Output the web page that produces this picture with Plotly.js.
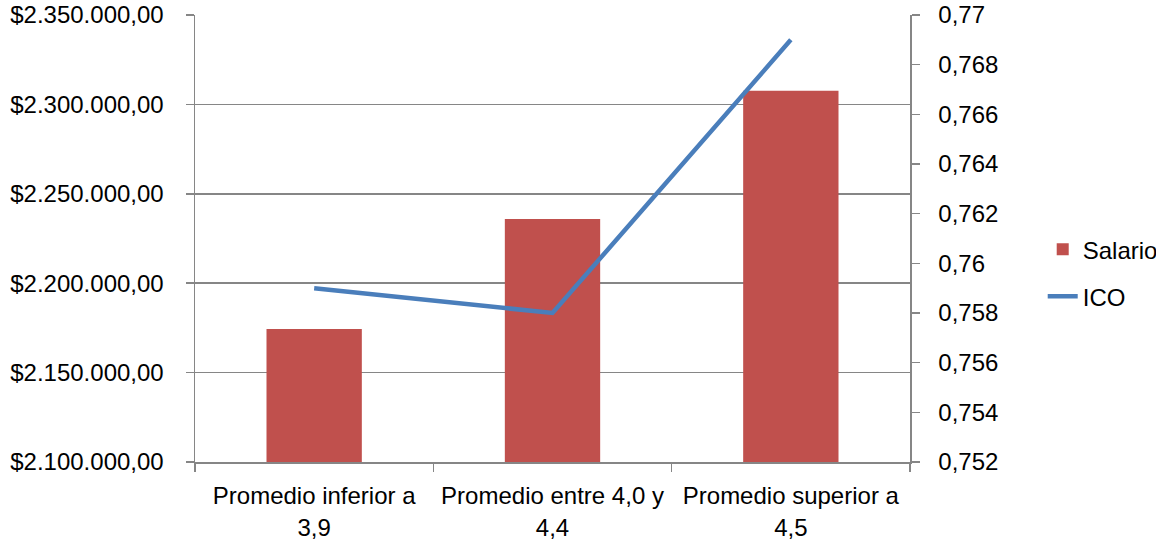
<!DOCTYPE html>
<html>
<head>
<meta charset="utf-8">
<script src="https://cdn.plot.ly/plotly-3.0.1.min.js"></script>
<style>html,body{margin:0;padding:0;background:#fff;}#chart{width:1156px;height:545px;}</style>
</head>
<body>
<div id="chart"></div>
<script>
const categories = ["Promedio inferior a<br>3,9", "Promedio entre 4,0 y<br>4,4", "Promedio superior a<br>4,5"];
const salario = [2174400, 2235900, 2307600];
const ico = [0.759, 0.758, 0.769];
const leftTickVals = [2100000, 2150000, 2200000, 2250000, 2300000, 2350000];
const leftTickText = ["$2.100.000,00", "$2.150.000,00", "$2.200.000,00", "$2.250.000,00", "$2.300.000,00", "$2.350.000,00"];
const rightTickVals = [0.752, 0.754, 0.756, 0.758, 0.76, 0.762, 0.764, 0.766, 0.768, 0.77];
const rightTickText = ["0,752", "0,754", "0,756", "0,758", "0,76", "0,762", "0,764", "0,766", "0,768", "0,77"];

const FONT = "Liberation Sans, Arial, sans-serif";
const GRID = "#868686";

const traces = [
  {
    type: "bar", name: "Salario", x: categories, y: salario,
    marker: {color: "#C0504D"}, width: 0.4, yaxis: "y", legendgroup: "a"
  },
  {
    type: "scatter", mode: "lines", name: "ICO", x: categories, y: ico,
    line: {color: "#4A7EBB", width: 4.5}, yaxis: "y2", legendgroup: "b"
  }
];

const layout = {
  width: 1156, height: 545,
  margin: {l: 195, r: 246, t: 15, b: 83},
  paper_bgcolor: "#fff", plot_bgcolor: "#fff",
  font: {family: FONT, size: 24, color: "#000"},
  showlegend: true,
  legend: {xref: "container", yref: "container", x: 0.902, xanchor: "left", y: 0.499, yanchor: "middle", traceorder: "grouped", tracegroupgap: 13, font: {size: 24}, bgcolor: "rgba(0,0,0,0)"},
  xaxis: {
    type: "category", showgrid: false, showline: true, linecolor: GRID, linewidth: 1.5,
    ticks: "outside", tickson: "boundaries", ticklen: 8, tickcolor: GRID, tickwidth: 1.5,
    ticklabelstandoff: 12, automargin: false
  },
  yaxis: {
    range: [2100000, 2350000], tickvals: leftTickVals, ticktext: leftTickText,
    showgrid: true, gridcolor: GRID, gridwidth: 1.5, showline: true, linecolor: GRID, linewidth: 1.5,
    ticks: "outside", ticklen: 8, tickcolor: GRID, tickwidth: 1.5, ticklabelstandoff: 17,
    zeroline: false, automargin: false
  },
  yaxis2: {
    overlaying: "y", side: "right", range: [0.752, 0.77], tickvals: rightTickVals, ticktext: rightTickText,
    showgrid: false, showline: true, linecolor: GRID, linewidth: 1.5,
    ticks: "outside", ticklen: 8, tickcolor: GRID, tickwidth: 1.5, ticklabelstandoff: 14,
    zeroline: false, automargin: false
  }
};

Plotly.newPlot("chart", traces, layout, {displayModeBar: false, staticPlot: true});
</script>
</body>
</html>
